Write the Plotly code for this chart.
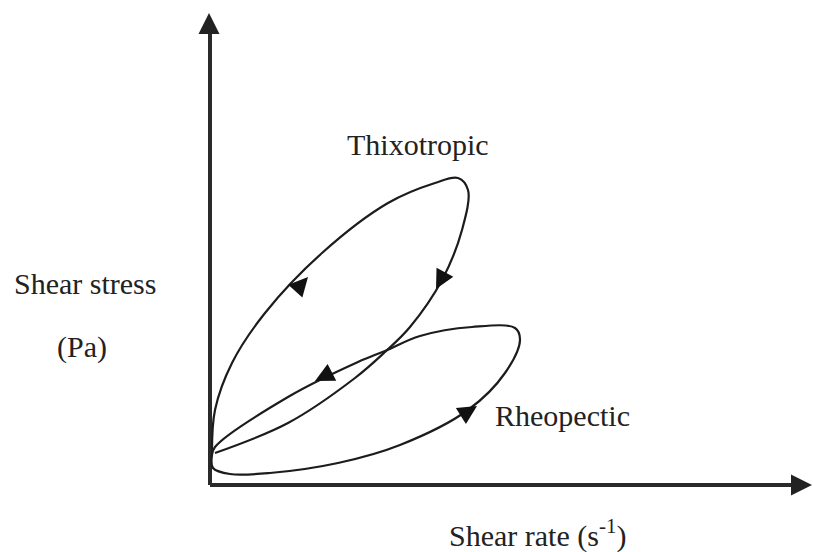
import plotly.graph_objects as go

# Schematic data (arbitrary units: shear rate vs shear stress)
thixo_x = [2, 5, 22, 55, 112, 178, 225, 248, 258, 252, 232, 200, 175, 145, 78, 5]
thixo_y = [33, 75, 122, 172, 232, 282, 302, 307, 295, 255, 205, 158, 133, 107, 62, 32]

rheo_x = [2, 3, 20, 60, 128, 190, 258, 295, 310, 305, 262, 210, 175, 148, 78, 5, 2]
rheo_y = [30, 17, 11, 12, 22, 40, 75, 112, 145, 157, 158, 149, 134, 123, 88, 38, 30]

# Direction arrows on the loops (tip position and direction angle, degrees clockwise from up)
arrow_x = [98, 226, 105, 267]
arrow_y = [208, 196, 104, 79]
arrow_angle = [42, 208, 243, 58]

labels = ["Thixotropic", "Rheopectic", "Shear stress", "(Pa)", "Shear rate (s<sup>-1</sup>)"]

ink = "#1c1c1c"
font = "Liberation Serif, Times New Roman, serif"

fig = go.Figure()

# axes with arrowheads
fig.add_trace(go.Scatter(x=[0, 0], y=[0, 455], mode="lines",
                         line=dict(color="#2a2a2a", width=4), hoverinfo="skip"))
fig.add_trace(go.Scatter(x=[0, 590], y=[0, 0], mode="lines",
                         line=dict(color="#2a2a2a", width=4), hoverinfo="skip"))
fig.add_trace(go.Scatter(x=[-1, 602], y=[472, 0], mode="markers",
                         marker=dict(symbol="arrow-up", size=21, color="#222",
                                     angle=[0, 90]), hoverinfo="skip"))

# loops
fig.add_trace(go.Scatter(x=thixo_x, y=thixo_y, mode="lines",
                         line=dict(color=ink, width=2.2, shape="spline", smoothing=1.0),
                         hoverinfo="skip"))
fig.add_trace(go.Scatter(x=rheo_x, y=rheo_y, mode="lines",
                         line=dict(color=ink, width=2.2, shape="spline", smoothing=1.0),
                         hoverinfo="skip"))
fig.add_trace(go.Scatter(x=arrow_x, y=arrow_y, mode="markers",
                         marker=dict(symbol="arrow-up", size=19, color="#111",
                                     angle=arrow_angle), hoverinfo="skip"))

ann = [
    dict(x=135, y=341, text=labels[0]),
    dict(x=283, y=70, text=labels[1]),
    dict(x=-198, y=202, text=labels[2]),
    dict(x=-155, y=138, text=labels[3]),
    dict(x=237, y=-48, text=labels[4]),
]
for a in ann:
    fig.add_annotation(x=a["x"], y=a["y"], text=a["text"], xanchor="left",
                       yanchor="middle", showarrow=False, xref="x", yref="y",
                       font=dict(family=font, size=30, color="#222"))

fig.update_layout(
    width=813, height=552,
    margin=dict(l=0, r=0, t=0, b=0),
    paper_bgcolor="white", plot_bgcolor="white",
    showlegend=False,
    xaxis=dict(range=[-210, 603], visible=False, fixedrange=True),
    yaxis=dict(range=[-67, 485], visible=False, fixedrange=True),
)

fig.write_html("out.html", config={"displayModeBar": False},
               post_script="document.body.style.margin='0px';document.body.style.overflow='hidden';")
